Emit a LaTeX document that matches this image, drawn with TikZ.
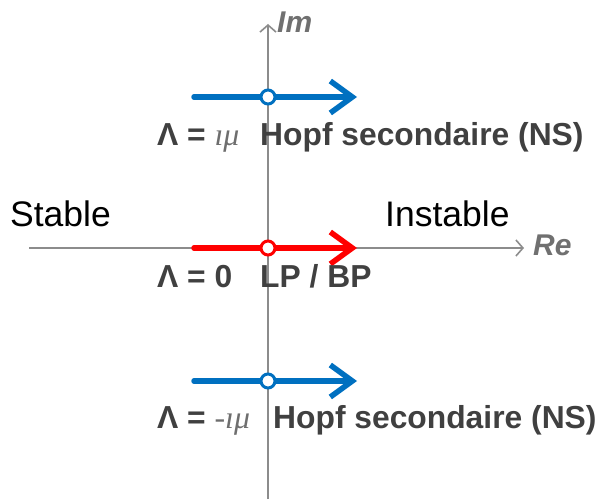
\documentclass[tikz,border=0pt]{standalone}
\usepackage{fontspec}
\setmainfont{Liberation Sans}
\newfontfamily\serifmath{Liberation Serif}
\usetikzlibrary{arrows.meta,positioning}
\definecolor{axisgray}{RGB}{140,140,140}
\definecolor{hopfblue}{RGB}{0,112,192}
\definecolor{lpred}{RGB}{255,0,0}
\definecolor{labeldark}{RGB}{64,64,64}
\definecolor{mathgray}{RGB}{110,110,110}

\begin{document}
\begin{tikzpicture}[
  x=1pt,y=-1pt,
  axis/.style={draw=axisgray,line width=1.6pt,-{Straight Barb[length=7pt,width=16pt,line width=1.6pt]}},
  axislabel/.style={text=axisgray!80!black,inner sep=0pt,anchor=base west,font=\fontsize{30}{30}\selectfont\bfseries\itshape},
  side/.style={text=black,inner sep=0pt,anchor=base west,font=\fontsize{35.5}{35.5}\selectfont},
  path/.style={line width=5.5pt,-{Straight Barb[length=22pt,width=32pt,line width=5.5pt]},line cap=round},
  point/.style={circle,fill=white,line width=3pt,inner sep=0pt,minimum size=14pt},
  tag/.style={text=labeldark,inner sep=0pt,anchor=base west,font=\fontsize{31.8}{31.8}\selectfont\bfseries}
]
  \useasboundingbox (0,0) rectangle (598,500);
  % axes
  \coordinate (origin) at (268,248);
  \coordinate (xstart) at (29,248);
  \coordinate (xend) at (524,248);
  \coordinate (ystart) at (268,499);
  \coordinate (yend) at (268,24);
  \draw[axis] (xstart) -- (xend);
  \draw[axis] (ystart) -- (yend);
  \node[axislabel] (re) at (533,256) {Re};
  \node[axislabel] (im) at (277,33) {Im};
  \node[side] (stable) at (10,227) {Stable};
  \node[side] (instable) at (385,227) {Instable};

  % eigenvalue paths
  \coordinate (topstart) at (194,97);
  \coordinate (topend) at (357,97);
  \coordinate (midstart) at (194,248);
  \coordinate (midend) at (357,248);
  \coordinate (botstart) at (194,381);
  \coordinate (botend) at (357,381);
  \draw[path,hopfblue] (topstart) -- (topend);
  \draw[path,lpred] (midstart) -- (midend);
  \draw[path,hopfblue] (botstart) -- (botend);
  \node[point,draw=hopfblue] (top) at (268,97) {};
  \node[point,draw=lpred] (mid) at (268,248) {};
  \node[point,draw=hopfblue] (bot) at (268,381) {};

  % labels
  \node[tag] (toplam) at (157,146) {Λ = \textcolor{mathgray}{\serifmath\mdseries\itshape ıμ}};
  \node[tag] (topname) at (260,146) {Hopf secondaire (NS)};
  \node[tag] (midlam) at (157,288) {Λ = 0};
  \node[tag] (midname) at (260,288) {LP / BP};
  \node[tag] (botlam) at (157,428) {Λ = \textcolor{mathgray}{\serifmath\mdseries\itshape -ıμ}};
  \node[tag] (botname) at (273,428) {Hopf secondaire (NS)};
\end{tikzpicture}
\end{document}
